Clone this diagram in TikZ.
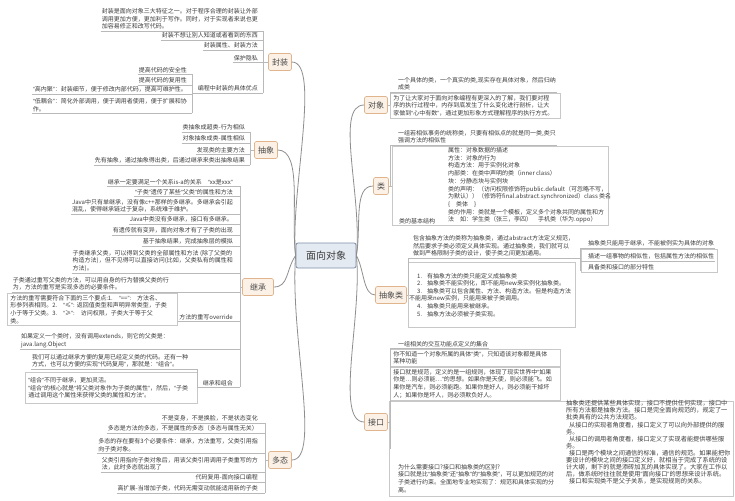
\documentclass[tikz,border=0pt]{standalone}
\usepackage{fontspec}
\newfontfamily\cjk{Noto Sans CJK SC}
\newfontfamily\lat{Liberation Sans}
\newcommand{\QL}{{\lat “}}
\newcommand{\QR}{{\lat ”}}
\usetikzlibrary{calc}
\definecolor{txtc}{HTML}{3C3C3C}
\definecolor{brt}{HTML}{4A4A4A}
\definecolor{linec}{HTML}{B9B9B9}
\definecolor{mainc}{HTML}{8E8E8E}
\definecolor{brd}{HTML}{E0B48C}
\definecolor{brf}{HTML}{FCF1E6}
\definecolor{hubd}{HTML}{7E90A8}
\definecolor{hubf}{HTML}{E4EAF2}
\definecolor{boxc}{HTML}{C8C8C8}
\begin{document}
\begin{tikzpicture}[x=1pt,y=-1pt,
  txt/.style={font=\cjk\fontsize{6}{7.6}\selectfont, text=txtc, inner xsep=1pt, inner ysep=1.3pt, align=left},
  itl/.style={txt, anchor=south east},
  itr/.style={txt, anchor=south west},
  ul/.style={draw=linec, line width=0.6pt},
  brn/.style={draw=brd, fill=brf, line width=0.6pt, font=\cjk\fontsize{8}{9}\selectfont, text=brt, inner xsep=3.5pt, inner ysep=2pt, minimum height=17pt, rounded corners=1.5pt},
  hubn/.style={draw=hubd, fill=hubf, line width=0.8pt, font=\cjk\fontsize{10}{12}\selectfont, text=txtc, minimum width=60pt, minimum height=25pt, rounded corners=2pt},
  mainln/.style={draw=mainc, line width=0.8pt},
  bx/.style={draw=boxc, line width=0.5pt},
  bxt/.style={txt, bx, anchor=north west, inner xsep=3pt, inner ysep=2pt},
]
\useasboundingbox (0,0) rectangle (735,500);
\fill[white] (0,0) rectangle (735,500);

% ---------- hub and branches ----------
\node[hubn] (hub) at (326,255.5) {面向对象};
\node[brn] (fz) at (280,62) {封装};
\node[brn] (cx) at (266,150) {抽象};
\node[brn, minimum width=31pt] (jc) at (258,287) {继承};
\node[brn] (dt) at (280,460) {多态};
\node[brn] (dx) at (376,105) {对象};
\node[brn] (lei) at (381,186) {类};
\node[brn] (cxl) at (391,295) {抽象类};
\node[brn] (jk) at (376,422) {接口};

\draw[mainln] (hub.west) .. controls +(-6,-60) and +(30,0) .. (fz.east);
\draw[mainln] (hub.west) .. controls +(-5,-40) and +(25,0) .. (cx.east);
\draw[mainln] (hub.west) .. controls +(-10,15) and +(15,0) .. (jc.east);
\draw[mainln] (hub.west) .. controls +(-6,80) and +(30,0) .. (dt.east);
\draw[mainln] (hub.east) .. controls +(6,-60) and +(-30,0) .. (dx.west);
\draw[mainln] (hub.east) .. controls +(5,-30) and +(-20,0) .. (lei.west);
\draw[mainln] (hub.east) .. controls +(8,15) and +(-12,0) .. (cxl.west);
\draw[mainln] (hub.east) .. controls +(6,60) and +(-30,0) .. (jk.west);

% ---------- 封装 ----------
\coordinate (s1) at (263,0);
\coordinate (s2) at (192,0);
\node[itl] (f1) at (259,31) {封装是面向对象三大特征之一。对于程序合理的封装让外部\\调用更加方便，更加利于写作。同时，对于实现者来说也更\\加容易修正和改写代码。};
\node[itl] (f2) at (259,40) {封装不想让别人知道或者看到的东西};
\node[itl] (f3) at (259,50) {封装属性、封装方法};
\node[itl] (f4) at (259,62) {保护隐私};
\node[itl] (f5) at (259,93) {编程中封装的具体优点};
\node[itl] (f51) at (188,74) {提高代码的安全性};
\node[itl] (f52) at (188,85) {提高代码的复用性};
\node[itl] (f53) at (188,94) {\QL{}高内聚\QR{}：封装细节，便于修改内部代码，提高可维护性。};
\node[itl] (f54) at (188,113) {\QL{}低耦合\QR{}：简化外部调用，便于调用者使用，便于扩展和协\\作。};
\foreach \n in {f1,f2,f3,f4} \draw[ul] (\n.south west) -- (\n.south -| s1);
\draw[ul] (f5.south -| s2) -- (f5.south -| s1);
\foreach \n in {f51,f52,f53,f54} \draw[ul] (\n.south west) -- (\n.south -| s2);
\draw[ul] (f1.south -| s1) -- (f5.south -| s1);
\draw[ul] (f51.south -| s2) -- (f54.south -| s2);
\draw[ul] (fz.west) -- (fz.west -| s1);

% ---------- 抽象 ----------
\coordinate (s3) at (250,0);
\node[itl] (a1) at (246,132) {类抽象成超类-行为相似};
\node[itl] (a2) at (246,143) {对象抽象成类-属性相似};
\node[itl] (a3) at (246,154) {发现类的主要方法};
\node[itl] (a4) at (246,165) {先有抽象，通过抽象得出类，后通过继承来类出抽象结果};
\foreach \n in {a1,a2,a3,a4} \draw[ul] (\n.south west) -- (\n.south -| s3);
\draw[ul] (a1.south -| s3) -- (a4.south -| s3);
\draw[ul] (cx.west) -- (cx.west -| s3);

% ---------- 继承 ----------
\coordinate (s4) at (240,0);
\coordinate (s5) at (197,0);
\node[itl] (j1) at (234,186) {继承一定要满足一个关系is-a的关系\quad\QL{}xx是xxx\QR{}};
\node[itl] (j2) at (234,196) {\QL{}子类\QR{}遗传了某些\QL{}父类\QR{}的属性和方法};
\node[itl] (j3) at (234,214) {Java中只有单继承，没有像c++那样的多继承。多继承会引起\\混乱，使得继承链过于复杂，系统难于维护。};
\node[itl] (j4) at (234,224) {Java中类没有多继承，接口有多继承。};
\node[itl] (j5) at (234,235) {有遗传就有变异，面向对象才有了子类的出现};
\node[itl] (j6) at (234,246) {基于抽象结果，完成抽象层的模拟};
\node[itl] (j7) at (234,273) {子类继承父类，可以得到父类的全部属性和方法 (除了父类的\\构造方法)，但不见得可以直接访问(比如，父类私有的属性和\\方法)。};
\node[itl] (j8) at (170,292) {子类通过重写父类的方法，可以用自身的行为替换父类的行\\为，方法的重写是实现多态的必要条件。};
\node[bxt, text width=164pt, minimum height=30pt] (j9b) at (7,293) {方法的重写需要符合下面的三个要点:1.\quad\QL{}==\QR{}:\quad 方法名、\\形参列表相同。2.\quad\QL{}≤\QR{}:\ 返回值类型和声明异常类型，子类\\小于等于父类。3.\quad\QL{}≥\QR{}:\quad 访问权限，子类大于等于父\\类。};
\node[itl] (j9) at (234,321) {方法的重写override};
\node[itr] (j10) at (20,349) {如果定义一个类时，没有调用extends，则它的父类是：\\java.lang.Object};
\node[itr] (j11) at (31,369) {我们可以通过继承方便的复用已经定义类的代码。还有一种\\方式，也可以方便的实现\QL{}代码复用\QR{}，那就是：\QL{}组合\QR{}。};
\node[bxt, text width=166pt, minimum height=31pt] (j12) at (25,372) {\QL{}组合\QR{}不同于继承，更加灵活。\\\QL{}组合\QR{}的核心就是\QL{}将父类对象作为子类的属性\QR{}，然后，\QL{}子类\\通过调用这个属性来获得父类的属性和方法\QR{}。};
\node[itl] (j13) at (234,387) {继承和组合};
\foreach \n in {j1,j2,j3,j4,j5,j6,j7,j8,j10} \draw[ul] (\n.south west) -- (\n.south -| s4);
\draw[ul] (j9.south -| j9b.east) -- (j9.south -| s4);
\draw[ul] (j11.south west) -- (j11.south -| s5);
\draw[ul] (j13.south -| s5) -- (j13.south -| s4);
\draw[ul] (j11.south -| s5) -- (j13.south -| s5);
\draw[ul] (j1.south -| s4) -- (j13.south -| s4);
\draw[ul] (jc.west) -- (jc.west -| s4);

% ---------- 多态 ----------
\coordinate (s6) at (265,0);
\node[itl] (m1) at (259,423) {不是变身，不是换脸，不是状态变化};
\node[itl] (m2) at (259,433) {多态是方法的多态，不是属性的多态（多态与属性无关）};
\node[itl] (m3) at (259,453) {多态的存在要有3个必要条件：继承，方法重写，父类引用指\\向子类对象。};
\node[itl] (m4) at (259,472) {父类引用指向子类对象后，用该父类引用调用子类重写的方\\法，此时多态就出现了};
\node[itl] (m5) at (259,482) {代码复用-面向接口编程};
\node[itl] (m6) at (259,493) {高扩展-当增加子类，代码无需变动就能适用新的子类};
\foreach \n in {m1,m2,m3,m4,m5,m6} \draw[ul] (\n.south west) -- (\n.south -| s6);
\draw[ul] (m1.south -| s6) -- (m6.south -| s6);
\draw[ul] (dt.west) -- (dt.west -| s6);

% ---------- 对象 ----------
\coordinate (s7) at (390,0);
\node[itr] (d1) at (397,92) {一个具体的类，一个真实的类,现实存在具体对象，然后归纳\\成类};
\node[bxt, text width=164pt] (d2) at (390,93) {为了让大家对于面向对象编程有更深入的了解，我们要对程\\序的执行过程中，内存到底发生了什么变化进行剖析，让大\\家做到\QL{}心中有数\QR{}，通过更加形象方式理解程序的执行方式。};
\draw[ul] (d1.south -| s7) -- (d1.south east);
\draw[ul] (d1.south -| s7) -- (s7 |- dx.east);
\draw[ul] (dx.east) -- (dx.east -| d2.west);

% ---------- 类 ----------
\node[itr] (l1) at (397,145) {一组若相似事务的统称类，只要有相似点的就是同一类,类只\\强调方法的相似性};
\node[bx, anchor=north west, minimum width=216pt, minimum height=79pt] (l2) at (392,146) {};
\node[itr] (l2a) at (398,225) {类的基本结构};
\node[txt, anchor=north west, font=\cjk\fontsize{6}{7.7}\selectfont] (l2b) at (447,146) {属性：对象数据的描述\\方法：对象的行为\\构造方法：用于实例化对象\\内部类：在类中声明的类（inner class）\\块：分静态块与实例块\\类的声明：（访问权限修饰符public.default（可忽略不写，\\为默认））（修饰符final.abstract.synchronized）class 类名\\\{\quad 类体\quad \}\\类的作用：类就是一个模板，定义多个对象共同的属性和方\\法\quad 如：学生类（张三，李四）\quad 手机类（华为.oppo）};
\draw[ul] (l1.south -| s7) -- (l1.south east);
\draw[ul] (l1.south -| s7) -- (s7 |- lei.east);
\draw[ul] (lei.east) -- (lei.east -| l2.west);

% ---------- 抽象类 ----------
\coordinate (s9) at (408,0);
\coordinate (s10) at (580,0);
\node[itr] (c1) at (412,258) {包含抽象方法的类称为抽象类，通过abstract方法定义规范，\\然后要求子类必须定义具体实现。通过抽象类，我们就可以\\做到严格限制子类的设计，使子类之间更加通用。};
\node[itr] (c11) at (587,248) {抽象类只能用于继承，不能被例实为具体的对象};
\node[bx, anchor=north west, minimum width=136pt, minimum height=23pt] (cbox) at (581,249) {};
\node[itr] (c12) at (587,261) {描述一组事物的相似性，包括属性方法的相似性};
\node[itr] (c13) at (587,271) {具备类和接口的部分特性};
\draw[ul] (c1.south -| s9) -- (c1.south -| s10);
\draw[ul] (c11.south -| s10) -- (c11.south east);
\draw[ul] (c12.south -| s10) -- (c12.south east);
\draw[ul] (c11.south -| s10) -- (c13.south -| s10);
\node[bx, anchor=north west, minimum width=167pt, minimum height=65pt] (c2) at (408,262) {};
\node[txt, anchor=north west] (c2t) at (408,271.5) {\hspace*{8pt}1.\hspace*{5pt}有抽象方法的类只能定义成抽象类\\\hspace*{8pt}2.\hspace*{5pt}抽象类不能实例化，即不能用new来实例化抽象类。\\\hspace*{8pt}3.\hspace*{5pt}抽象类可以包含属性、方法、构造方法。但是构造方法\\不能用来new实例，只能用来被子类调用。\\\hspace*{8pt}4.\hspace*{5pt}抽象类只能用来被继承。\\\hspace*{8pt}5.\hspace*{5pt}抽象方法必须被子类实现。};
\draw[ul] (c1.south -| s9) -- (s9 |- cxl.east);
\draw[ul] (cxl.east) -- (cxl.east -| c2.west);

% ---------- 接口 ----------
\node[itr] (k1) at (397,348) {一组相关的交互功能点定义的集合};
\node[bxt, text width=164pt] (k2) at (390,349) {你不知道一个对象所属的具体\QL{}类\QR{}，只知道该对象都是具体\\某种功能};
\node[bxt, text width=164pt] (k3) at (390,367) {接口就是规范，定义的是一组规则，体现了现实世界中\QL{}如果\\你是…则必须能…\QR{}的思想。如果你是天使，则必须能飞。如\\果你是汽车，则必须能跑。如果你是好人，则必须能干掉坏\\人；如果你是坏人，则必须欺负好人。};
\node[bx, anchor=north west, minimum width=344pt, minimum height=95pt] (k4) at (389,401) {};
\node[itr] (k4a) at (397,494) {为什么需要接口?接口和抽象类的区别?\\接口就是比\QL{}抽象类\QR{}还\QL{}抽象\QR{}的\QL{}抽象类\QR{}，可以更加规范的对\\子类进行约束。全面地专业地实现了：规范和具体实现的分\\离。};
\node[txt, anchor=north west, font=\cjk\fontsize{6.2}{7.1}\selectfont] (k4b) at (565,399) {抽象类还提供某些具体实现，接口不提供任何实现，接口中\\所有方法都是抽象方法。接口是完全面向规范的，规定了一\\批类具有的公共方法规范。\\\hspace*{3pt}从接口的实现者角度看，接口定义了可以向外部提供的服\\务。\\\hspace*{3pt}从接口的调用者角度看，接口定义了实现者能提供哪些服\\务。\\\hspace*{3pt}接口是两个模块之间通信的标准，通信的规范。如果能把你\\要设计的模块之间的接口定义好，就相当于完成了系统的设\\计大纲，剩下的就是添砖加瓦的具体实现了。大家在工作以\\后，做系统时往往就是使用\QL{}面向接口\QR{}的思想来设计系统。\\\hspace*{3pt}接口和实现类不是父子关系，是实现规则的关系。};
\draw[ul] (k1.south -| s7) -- (k1.south east);
\draw[ul] (k1.south -| s7) -- (s7 |- k4.west);
\draw[ul] (jk.east) -- (jk.east -| s7);
\end{tikzpicture}
\end{document}
